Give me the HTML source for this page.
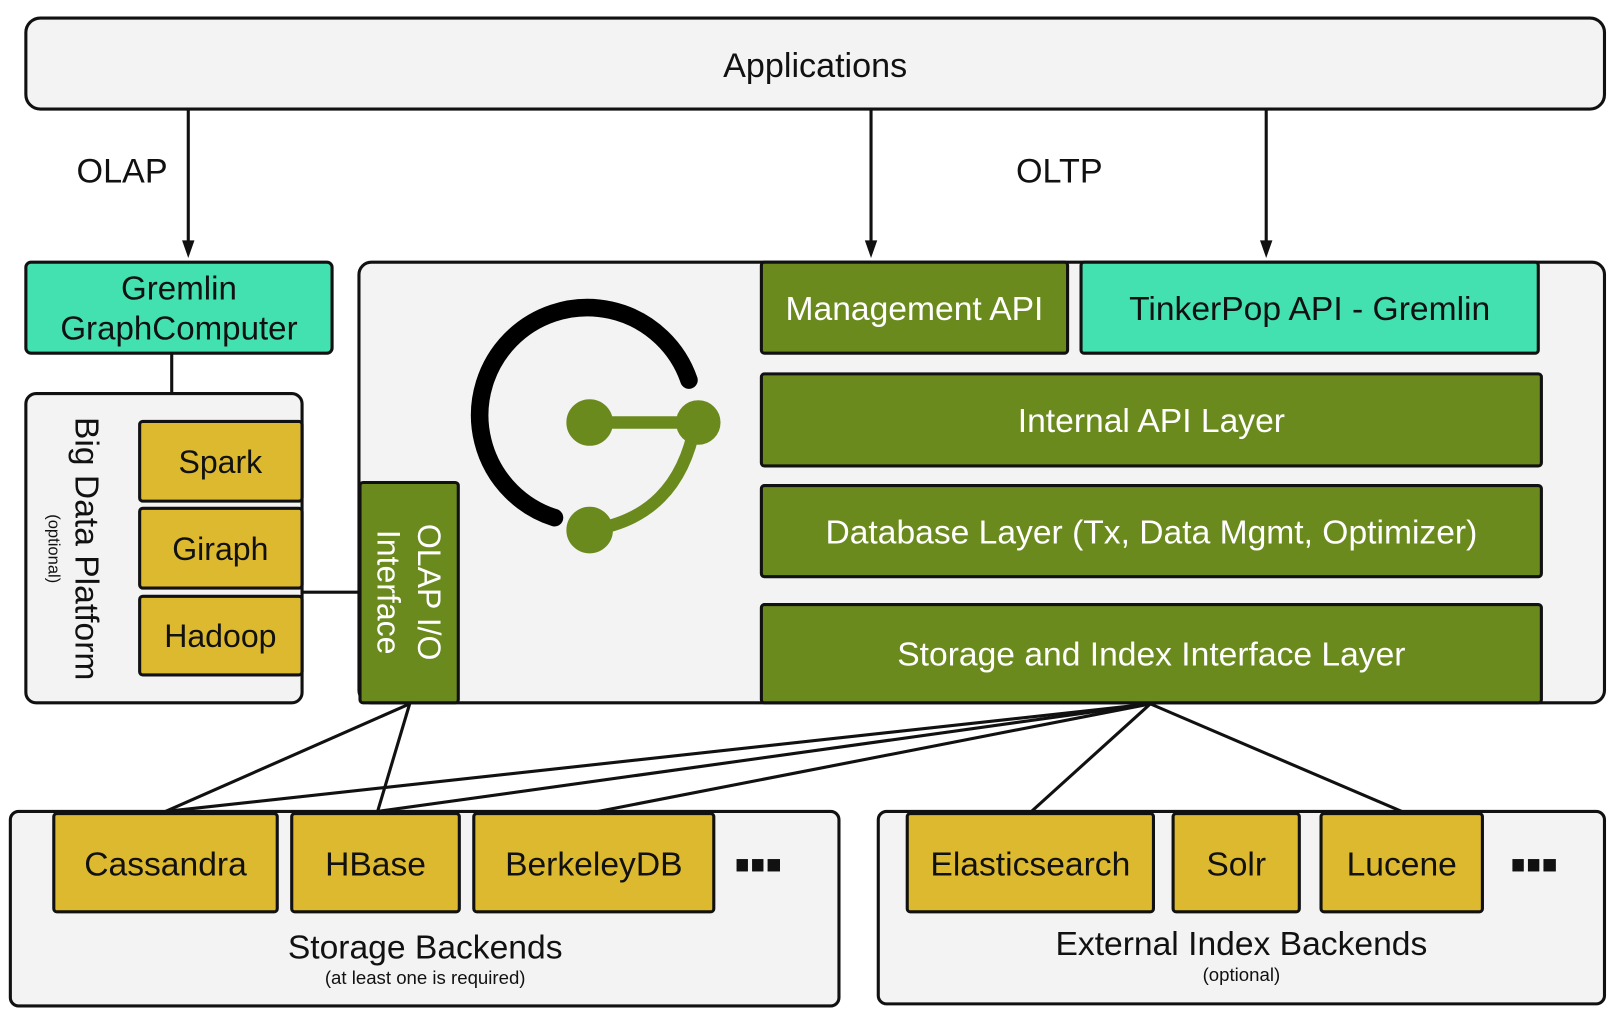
<!DOCTYPE html>
<html><head><meta charset="utf-8"><style>
html,body{margin:0;padding:0;background:#fff;}
svg{display:block;font-family:"Liberation Sans",Arial,sans-serif;}
</style></head><body>
<svg width="1620" height="1025" viewBox="0 0 1566 990" xmlns="http://www.w3.org/2000/svg">
<g stroke="#111" stroke-width="3">
<rect x="25" y="17" width="1526" height="88" rx="14" fill="#f3f3f3"/>
<line x1="182" y1="105" x2="182" y2="236"/>
<line x1="842" y1="105" x2="842" y2="236"/>
<line x1="1224" y1="105" x2="1224" y2="236"/>
</g>
<g fill="#111">
<path d="M176,232 L188,232 L182,249 Z"/>
<path d="M836,232 L848,232 L842,249 Z"/>
<path d="M1218,232 L1230,232 L1224,249 Z"/>
</g>
<text x="788" y="74" font-size="33" text-anchor="middle" fill="#111">Applications</text>
<text x="118" y="176" font-size="33" text-anchor="middle" fill="#111">OLAP</text>
<text x="1024" y="176" font-size="33" text-anchor="middle" fill="#111">OLTP</text>

<g stroke="#111" stroke-width="3">
<line x1="166" y1="341" x2="166" y2="380"/>
<line x1="292" y1="572" x2="347" y2="572"/>
<rect x="347" y="253" width="1204" height="426" rx="12" fill="#f3f3f3"/>
<rect x="25" y="380" width="267" height="299" rx="10" fill="#f3f3f3"/>
<rect x="25" y="253" width="296" height="88" rx="5" fill="#43e0b0"/>
<rect x="135" y="407" width="157" height="77" rx="3" fill="#ddb92f"/>
<rect x="135" y="491" width="157" height="77" rx="3" fill="#ddb92f"/>
<rect x="135" y="576" width="157" height="76" rx="3" fill="#ddb92f"/>
<rect x="348" y="466" width="95" height="213" rx="3" fill="#6b8a1e"/>
<rect x="736" y="253" width="296" height="88" rx="3" fill="#6b8a1e"/>
<rect x="1045" y="253" width="442" height="88" rx="3" fill="#43e0b0"/>
<rect x="736" y="361" width="754" height="89" rx="3" fill="#6b8a1e"/>
<rect x="736" y="469" width="754" height="88" rx="3" fill="#6b8a1e"/>
<rect x="736" y="584" width="754" height="95" rx="3" fill="#6b8a1e"/>
</g>
<text x="173" y="289" font-size="32" text-anchor="middle" fill="#111">Gremlin</text>
<text x="173" y="328" font-size="32" text-anchor="middle" fill="#111">GraphComputer</text>
<text x="213" y="457" font-size="31" text-anchor="middle" fill="#111">Spark</text>
<text x="213" y="541" font-size="31" text-anchor="middle" fill="#111">Giraph</text>
<text x="213" y="625" font-size="31" text-anchor="middle" fill="#111">Hadoop</text>
<text transform="translate(73,530) rotate(90)" font-size="32.5" text-anchor="middle" fill="#111">Big Data Platform</text>
<text transform="translate(47,530) rotate(90)" font-size="16" text-anchor="middle" fill="#111">(optional)</text>
<text transform="translate(404,572) rotate(90)" font-size="31" text-anchor="middle" fill="#fff">OLAP I/O</text>
<text transform="translate(365,572) rotate(90)" font-size="31" text-anchor="middle" fill="#fff">Interface</text>
<text x="884" y="309" font-size="32.5" text-anchor="middle" fill="#fff">Management API</text>
<text x="1266" y="309" font-size="32.5" text-anchor="middle" fill="#111">TinkerPop API - Gremlin</text>
<text x="1113" y="417" font-size="32.5" text-anchor="middle" fill="#fff">Internal API Layer</text>
<text x="1113" y="525" font-size="32.5" text-anchor="middle" fill="#fff">Database Layer (Tx, Data Mgmt, Optimizer)</text>
<text x="1113" y="643" font-size="32.5" text-anchor="middle" fill="#fff">Storage and Index Interface Layer</text>

<path d="M666,367 A104,104 0 1 0 536,500" fill="none" stroke="#000" stroke-width="17" stroke-linecap="round"/>
<g fill="#6b8a1e" stroke="#6b8a1e">
<line x1="570" y1="408" x2="675" y2="408" stroke-width="12"/>
<path d="M672,410 Q655,500 570,512" fill="none" stroke-width="12"/>
<circle cx="570" cy="408" r="22"/>
<circle cx="675" cy="408" r="21"/>
<circle cx="570" cy="512" r="22"/>
</g>

<g stroke="#111" stroke-width="3">
<line x1="396" y1="680" x2="160" y2="784"/>
<line x1="396" y1="680" x2="365" y2="784"/>
<line x1="1112" y1="680" x2="160" y2="784"/>
<line x1="1112" y1="680" x2="365" y2="784"/>
<line x1="1112" y1="680" x2="578" y2="784"/>
<line x1="1112" y1="680" x2="997" y2="784"/>
<line x1="1112" y1="680" x2="1355" y2="784"/>
<rect x="10" y="784" width="801" height="188" rx="8" fill="#f3f3f3"/>
<rect x="849" y="784" width="702" height="186" rx="8" fill="#f3f3f3"/>
<rect x="52" y="786" width="216" height="95" rx="3" fill="#ddb92f"/>
<rect x="282" y="786" width="162" height="95" rx="3" fill="#ddb92f"/>
<rect x="458" y="786" width="232" height="95" rx="3" fill="#ddb92f"/>
<rect x="877" y="786" width="238" height="95" rx="3" fill="#ddb92f"/>
<rect x="1134" y="786" width="122" height="95" rx="3" fill="#ddb92f"/>
<rect x="1277" y="786" width="156" height="95" rx="3" fill="#ddb92f"/>
</g>
<g fill="#111">
<rect x="712" y="830" width="11" height="12"/><rect x="727" y="830" width="11" height="12"/><rect x="742" y="830" width="12" height="12"/>
<rect x="1462" y="830" width="11" height="12"/><rect x="1477" y="830" width="11" height="12"/><rect x="1492" y="830" width="12" height="12"/>
</g>
<text x="160" y="846" font-size="32.5" text-anchor="middle" fill="#111">Cassandra</text>
<text x="363" y="846" font-size="32.5" text-anchor="middle" fill="#111">HBase</text>
<text x="574" y="846" font-size="32.5" text-anchor="middle" fill="#111">BerkeleyDB</text>
<text x="996" y="846" font-size="32.5" text-anchor="middle" fill="#111">Elasticsearch</text>
<text x="1195" y="846" font-size="32.5" text-anchor="middle" fill="#111">Solr</text>
<text x="1355" y="846" font-size="32.5" text-anchor="middle" fill="#111">Lucene</text>
<text x="411" y="926" font-size="32.5" text-anchor="middle" fill="#111">Storage Backends</text>
<text x="411" y="951" font-size="18" text-anchor="middle" fill="#111">(at least one is required)</text>
<text x="1200" y="923" font-size="32.5" text-anchor="middle" fill="#111">External Index Backends</text>
<text x="1200" y="948" font-size="18" text-anchor="middle" fill="#111">(optional)</text>
</svg>
</body></html>
